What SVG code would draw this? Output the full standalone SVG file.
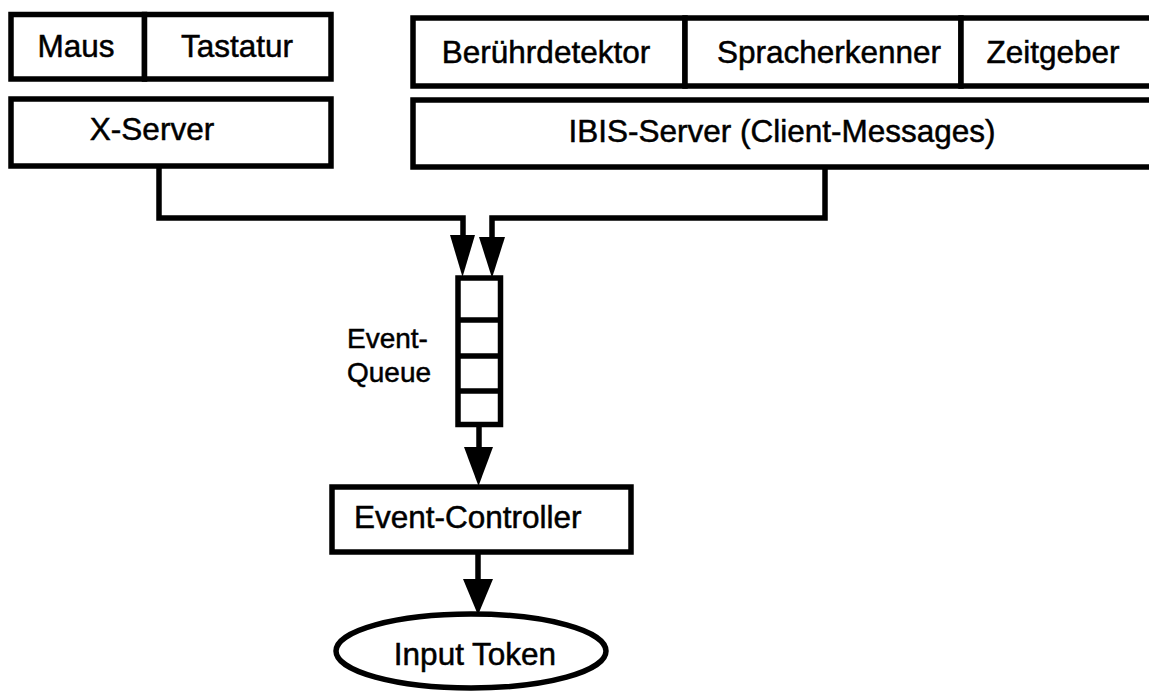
<svg xmlns="http://www.w3.org/2000/svg" width="1149" height="692" viewBox="0 0 1149 692">
<style>
.box{fill:#fff;stroke:#000;stroke-width:5.5}
.ln{fill:none;stroke:#000;stroke-width:5.5}
.hd{fill:#000;stroke:none}
text{font-family:"Liberation Sans",Arial,sans-serif;font-size:31.5px;fill:#000;stroke:#000;stroke-width:0.5}
.c{text-anchor:middle}
</style>
<rect width="1149" height="692" fill="#fff"/>
<g id="connectors">
<path class="ln" d="M159,166 V218 H463 V240"/>
<polygon class="hd" points="450,235 475,235 462.5,277"/>
<path class="ln" d="M825,167 V218 H492 V240"/>
<polygon class="hd" points="479,237 505,237 492,278"/>
<path class="ln" d="M479,424 V452"/>
<polygon class="hd" points="464,447 493,447 478.5,486"/>
<path class="ln" d="M478,552 V585"/>
<polygon class="hd" points="463,579 493,579 478,615"/>
</g>
<g id="maus"><rect class="box" x="11" y="14.5" width="133.5" height="64.5"/><text class="c" x="76" y="57">Maus</text></g>
<g id="tastatur"><rect class="box" x="144.5" y="14.5" width="186.5" height="64.5"/><text class="c" x="237" y="57">Tastatur</text></g>
<g id="xserver"><rect class="box" x="11" y="99" width="320" height="67"/><text class="c" x="152" y="140">X-Server</text></g>
<g id="beruehrdetektor"><rect class="box" x="413" y="18" width="272" height="68"/><text class="c" x="546" y="63">Berührdetektor</text></g>
<g id="spracherkenner"><rect class="box" x="685" y="18" width="276" height="68"/><text class="c" x="829" y="63">Spracherkenner</text></g>
<g id="zeitgeber"><rect class="box" x="961" y="18" width="200" height="68"/><text class="c" x="1053" y="63">Zeitgeber</text></g>
<g id="ibis"><rect class="box" x="413" y="100" width="748" height="67"/><text class="c" x="782" y="142">IBIS-Server (Client-Messages)</text></g>
<g id="queue">
<rect class="box" x="458" y="278" width="42.5" height="146.5"/>
<path class="ln" d="M458,320 H500.5 M458,356 H500.5 M458,391 H500.5"/>
<text x="347" y="348" style="font-size:28px">Event-</text>
<text x="347" y="382" style="font-size:28px">Queue</text>
</g>
<g id="controller"><rect class="box" x="332" y="487" width="299" height="65"/><text x="354" y="528">Event-Controller</text></g>
<g id="token"><ellipse class="box" cx="471" cy="651" rx="135" ry="37"/><text class="c" x="475" y="665">Input Token</text></g>
</svg>
